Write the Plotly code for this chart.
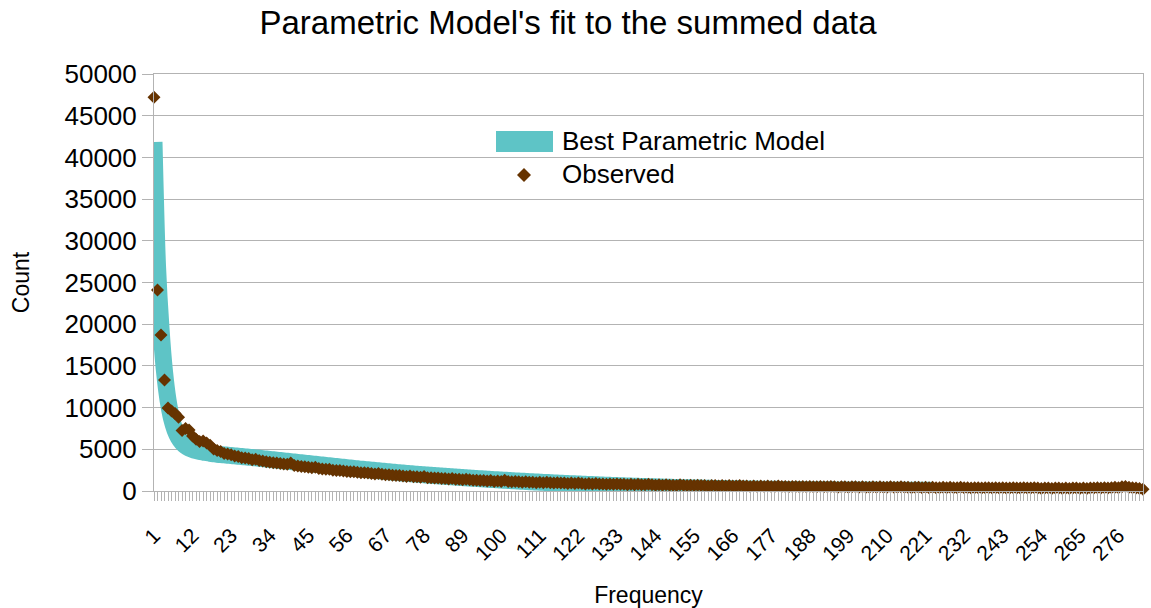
import plotly.graph_objects as go

title_text = "Parametric Model's fit to the summed data"
legend_labels = ["Best Parametric Model", "Observed"]

model_values = [
    41850, 27000, 19500, 14300, 10900, 8700, 7300, 6400, 5800, 5400,
    5150, 4980, 4850, 4750, 4670, 4600, 4530, 4470, 4410, 4360,
    4330, 4290, 4250, 4210, 4170, 4130, 4090, 4050, 4010, 3970,
    3925, 3880, 3835, 3790, 3745, 3700, 3655, 3610, 3565, 3520,
    3475, 3430, 3385, 3340, 3295, 3250, 3205, 3160, 3115, 3070,
    3025, 2980, 2935, 2890, 2845, 2800, 2755, 2710, 2665, 2620,
    2580, 2540, 2500, 2460, 2420, 2380, 2340, 2300, 2260, 2220,
    2185, 2150, 2115, 2080, 2045, 2010, 1980, 1945, 1915, 1880,
    1850, 1820, 1790, 1760, 1730, 1700, 1670, 1640, 1610, 1580,
    1555, 1525, 1500, 1470, 1445, 1420, 1390, 1365, 1340, 1310,
    1290, 1265, 1240, 1215, 1190, 1170, 1145, 1120, 1100, 1075,
    1055, 1035, 1015, 995, 975, 955, 935, 915, 895, 875,
    860, 840, 820, 805, 785, 770, 750, 730, 715, 695,
    680, 665, 650, 635, 620, 605, 590, 575, 560, 545,
    530, 520, 505, 495, 480, 465, 455, 440, 430, 415,
    405, 395, 385, 375, 365, 355, 345, 335, 325, 315,
    305, 300, 290, 285, 275, 270, 260, 255, 245, 240,
    235, 230, 225, 220, 215, 210, 205, 200, 195, 190,
    186, 182, 178, 174, 170, 166, 162, 158, 154, 150,
    147, 144, 141, 138, 135, 132, 129, 126, 123, 120,
    118, 116, 114, 112, 110, 108, 106, 104, 102, 100,
    98, 96, 94, 92, 90, 88, 86, 84, 82, 80, 78, 76, 74,
]

observed_values = [
    47200, 24100, 18700, 13300, 9950, 9600, 9300, 8850, 7250, 7500,
    7300, 6600, 6200, 5950, 6000, 5750, 5500, 5050, 4850, 4750,
    4500, 4450, 4350, 4200, 4150, 4000, 3950, 3900, 3750, 3800,
    3650, 3600, 3500, 3450, 3400, 3350, 3300, 3250, 3200, 3350,
    3050, 3000, 2950, 2900, 2850, 2800, 2850, 2700, 2650, 2600,
    2600, 2500, 2450, 2450, 2400, 2350, 2300, 2300, 2250, 2200,
    2200, 2150, 2100, 2050, 2100, 2000, 1950, 1950, 1900, 1850,
    1850, 1800, 1750, 1800, 1700, 1700, 1650, 1750, 1600, 1600,
    1550, 1550, 1500, 1500, 1450, 1500, 1400, 1400, 1350, 1400,
    1350, 1300, 1300, 1250, 1250, 1200, 1250, 1150, 1200, 1150,
    1300, 1150, 1100, 1150, 1100, 1050, 1100, 1050, 1050, 1000,
    1050, 1000, 1050, 1000, 950, 1000, 950, 950, 900, 950,
    900, 950, 900, 850, 900, 850, 900, 850, 850, 800,
    850, 800, 850, 800, 800, 750, 800, 750, 800, 750,
    750, 800, 750, 700, 750, 700, 750, 700, 700, 650,
    750, 700, 650, 700, 650, 700, 650, 650, 600, 650,
    650, 600, 650, 600, 650, 600, 600, 650, 600, 600,
    550, 600, 550, 600, 550, 600, 550, 550, 600, 550,
    550, 500, 550, 550, 500, 550, 500, 550, 500, 500,
    550, 500, 500, 550, 500, 450, 500, 500, 450, 500,
    500, 450, 500, 450, 450, 500, 450, 500, 450, 450,
    500, 450, 450, 500, 450, 450, 400, 450, 450, 400,
    450, 400, 450, 400, 400, 450, 400, 450, 400, 400,
    450, 400, 400, 350, 400, 400, 350, 400, 400, 350,
    400, 350, 400, 350, 350, 400, 350, 350, 400, 350,
    350, 400, 350, 300, 350, 350, 300, 350, 350, 300,
    350, 300, 350, 350, 300, 350, 300, 350, 350, 400,
    350, 400, 350, 400, 450, 400, 500, 550, 450, 400,
    350, 300, 200,
]

model_freq = list(range(1, len(model_values) + 1))
observed_freq = list(range(1, len(observed_values) + 1))

y_ticks = [0, 5000, 10000, 15000, 20000, 25000, 30000, 35000, 40000, 45000, 50000]
x_ticks = list(range(1, len(observed_values) + 1, 11))

FONT = "Liberation Sans, Arial, sans-serif"
GRID = "#b3b3b3"
CYAN = "#5ec4c6"
BROWN = "#663300"

# plot-area geometry (pixels) used only to place the hand-drawn legend
L, R, T, B = 154, 1143, 74, 491


def fx(px):
    return (px - L) / (R - L)


def fy(py):
    return (B - py) / (B - T)


fig = go.Figure()
fig.add_trace(go.Scatter(
    x=model_freq, y=model_values, mode="lines",
    name=legend_labels[0],
    line=dict(color=CYAN, width=17, shape="spline", smoothing=0.8),
    showlegend=False,
))
fig.add_trace(go.Scatter(
    x=observed_freq, y=observed_values, mode="markers",
    name=legend_labels[1],
    marker=dict(symbol="diamond", size=10, color=BROWN, line=dict(width=0)),
    cliponaxis=False, showlegend=False,
))

# legend drawn by hand (wide swatch as in the original)
shapes = [
    dict(type="rect", xref="paper", yref="paper",
         x0=fx(496), x1=fx(553), y0=fy(152), y1=fy(131),
         fillcolor=CYAN, line=dict(width=0), layer="above"),
    dict(type="path", xref="paper", yref="paper",
         path=f"M {fx(524)} {fy(168)} L {fx(531)} {fy(175)} L {fx(524)} {fy(182)} L {fx(517)} {fy(175)} Z",
         fillcolor=BROWN, line=dict(width=0), layer="above"),
]
annotations = [
    dict(text=legend_labels[0], xref="paper", yref="paper", x=fx(560), y=fy(141),
         xanchor="left", yanchor="middle", showarrow=False,
         font=dict(size=26, family=FONT, color="#000000")),
    dict(text=legend_labels[1], xref="paper", yref="paper", x=fx(560), y=fy(174),
         xanchor="left", yanchor="middle", showarrow=False,
         font=dict(size=26, family=FONT, color="#000000")),
]

fig.update_layout(
    width=1151, height=608,
    margin=dict(l=L, r=1151 - R, t=T, b=608 - B, autoexpand=False),
    paper_bgcolor="white", plot_bgcolor="white",
    font=dict(family=FONT, color="#000000"),
    title=dict(text=title_text, x=0.4935, xanchor="center", y=1 - 22 / 608,
               yanchor="middle", font=dict(size=33, family=FONT, color="#000000")),
    showlegend=False,
    shapes=shapes,
    annotations=annotations,
)

fig.update_xaxes(
    automargin=False,
    range=[1, len(observed_values)],
    tickmode="array", tickvals=x_ticks, ticktext=[str(v) for v in x_ticks],
    tickangle=-45, tickfont=dict(size=21, family=FONT),
    ticklabelstandoff=14,
    showgrid=False, zeroline=False,
    showline=True, linecolor=GRID, linewidth=1, mirror=True,
    ticks="outside", ticklen=9, tickcolor=GRID, tickwidth=1,
    minor=dict(dtick=1, tick0=1, ticks="outside", ticklen=9, tickcolor=GRID, tickwidth=1, showgrid=False),
    title=dict(text="Frequency", font=dict(size=23, family=FONT), standoff=24),
)
fig.update_yaxes(
    automargin=False,
    range=[0, 50000],
    tickmode="array", tickvals=y_ticks, ticktext=[str(v) for v in y_ticks],
    tickfont=dict(size=26, family=FONT),
    showgrid=True, gridcolor=GRID, gridwidth=1,
    zeroline=False,
    showline=True, linecolor=GRID, linewidth=1, mirror=True,
    ticks="outside", ticklen=11, tickcolor=GRID, tickwidth=1,
    title=dict(text="Count", font=dict(size=23, family=FONT), standoff=28),
)

fig.write_html("out.html")
